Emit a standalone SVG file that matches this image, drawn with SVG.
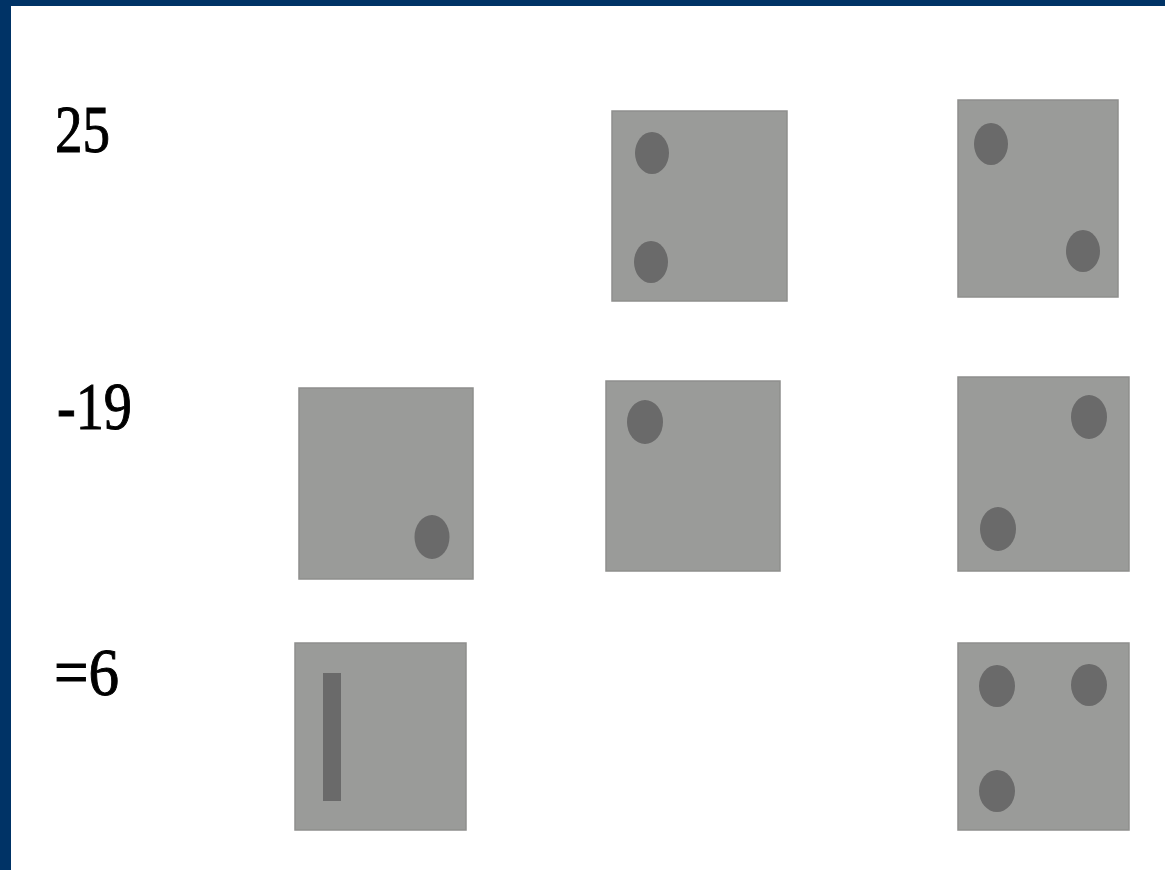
<svg xmlns="http://www.w3.org/2000/svg" width="1165" height="870" viewBox="0 0 1165 870">
<style>
.card{fill:#9a9b99;stroke:#8e8f8d;stroke-width:1.5}
.dot{fill:#6a6a6a}
.num{font-family:"Liberation Serif","Times New Roman",serif;font-size:67px;fill:#000;stroke:#000;stroke-width:1}
</style>
<rect x="0" y="0" width="1165" height="870" fill="#ffffff"/>
<rect x="0" y="0" width="1165" height="6" fill="#003366"/>
<rect x="0" y="0" width="11" height="870" fill="#003366"/>
<g id="labels">
<text class="num" x="55" y="152" textLength="55" lengthAdjust="spacingAndGlyphs">25</text>
<text class="num" x="57" y="429" textLength="75" lengthAdjust="spacingAndGlyphs">-19</text>
<text class="num" x="54" y="695" textLength="65" lengthAdjust="spacingAndGlyphs">=6</text>
</g>
<g id="r1c2"><rect class="card" x="612" y="111" width="175" height="190"/><ellipse class="dot" cx="652" cy="153" rx="17" ry="21"/><ellipse class="dot" cx="651" cy="262" rx="17" ry="21"/></g>
<g id="r1c3"><rect class="card" x="958" y="100" width="160" height="197"/><ellipse class="dot" cx="991" cy="144" rx="17" ry="21"/><ellipse class="dot" cx="1083" cy="251" rx="17" ry="21"/></g>
<g id="r2c1"><rect class="card" x="299" y="388" width="174" height="191"/><ellipse class="dot" cx="432" cy="537" rx="17.5" ry="22"/></g>
<g id="r2c2"><rect class="card" x="606" y="381" width="174" height="190"/><ellipse class="dot" cx="645" cy="422" rx="18" ry="22"/></g>
<g id="r2c3"><rect class="card" x="958" y="377" width="171" height="194"/><ellipse class="dot" cx="1089" cy="417" rx="18" ry="22"/><ellipse class="dot" cx="998" cy="529" rx="18" ry="22"/></g>
<g id="r3c1"><rect class="card" x="295" y="643" width="171" height="187"/><rect class="dot" x="323" y="673" width="18" height="128"/></g>
<g id="r3c3"><rect class="card" x="958" y="643" width="171" height="187"/><ellipse class="dot" cx="997" cy="686" rx="18" ry="21"/><ellipse class="dot" cx="1089" cy="685" rx="18" ry="21"/><ellipse class="dot" cx="997" cy="791" rx="18" ry="21"/></g>
<g id="connectors"/>
</svg>
